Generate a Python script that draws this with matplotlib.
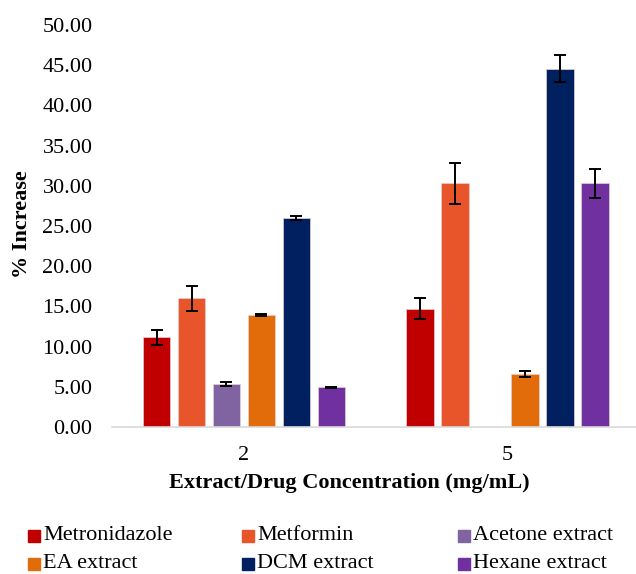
import matplotlib
matplotlib.use("Agg")
import matplotlib.pyplot as plt
from matplotlib.patches import Rectangle
import numpy as np

plt.rcParams['font.family'] = ['Liberation Serif', 'DejaVu Serif']

concentrations = ["2", "5"]
series = ["Metronidazole", "Metformin", "Acetone extract",
          "EA extract", "DCM extract", "Hexane extract"]
values = {
    "Metronidazole":   [11.16, 14.71],
    "Metformin":       [16.00, 30.31],
    "Acetone extract": [5.35, 0.05],
    "EA extract":      [13.93, 6.55],
    "DCM extract":     [26.00, 44.57],
    "Hexane extract":  [4.93, 30.31],
}
errors = {
    "Metronidazole":   [0.91, 1.31],
    "Metformin":       [1.53, 2.55],
    "Acetone extract": [0.25, 0.00],
    "EA extract":      [0.10, 0.37],
    "DCM extract":     [0.30, 1.68],
    "Hexane extract":  [0.10, 1.78],
}
colors = ["#C00000", "#E9552B", "#8064A2", "#E36C0A", "#002060", "#7030A0"]
yticks = np.arange(0, 50.01, 5)

FS = 16
W, H = 636, 574
fig = plt.figure(figsize=(W / 100, H / 100), dpi=100)
ax_left, ax_right, ax_bottom, ax_top = 112, 636, 427, 25
ax = fig.add_axes([ax_left / W, 1 - ax_bottom / H,
                   (ax_right - ax_left) / W, (ax_bottom - ax_top) / H])

x = np.arange(len(concentrations))
step = 0.1328
width = 0.1036
for i, name in enumerate(series):
    offs = (i - (len(series) - 1) / 2) * step
    vals = np.array(values[name])
    errs = np.array(errors[name])
    ax.bar(x + offs, vals, width=width, color=colors[i],
           edgecolor="#E6D0D0", linewidth=0.5, zorder=2)
    has_err = errs > 0
    ax.errorbar((x + offs)[has_err], vals[has_err], yerr=errs[has_err],
                fmt="none", ecolor="black", elinewidth=1.4, capsize=4.3,
                capthick=1.4, zorder=3)

ax.set_xlim(-0.501, 1.488)
ax.set_ylim(0, 50)
ax.set_yticks(yticks)
ax.set_yticklabels([f"{v:.2f}" for v in yticks], fontsize=FS)
ax.set_xticks(x)
ax.set_xticklabels(concentrations, fontsize=FS)
for s in ["top", "right", "left"]:
    ax.spines[s].set_visible(False)
ax.spines["bottom"].set_color("#D9D9D9")
ax.spines["bottom"].set_linewidth(1.2)
ax.tick_params(axis="x", length=0, pad=14)
ax.tick_params(axis="y", length=0, pad=14)

fig.text(22 / W, 1 - 224 / H, "% Increase", rotation=90, ha="center",
         va="center", fontsize=FS, fontweight="bold")
fig.text(349 / W, 1 - 483 / H, "Extract/Drug Concentration (mg/mL)",
         ha="center", va="center", fontsize=FS, fontweight="bold")

# legend laid out in three columns below the axes
col_x = [28, 242, 458]
row_y = [536, 564]
sq = 12
for i, name in enumerate(series):
    cx = col_x[i % 3]
    cy = row_y[i // 3]
    fig.add_artist(Rectangle((cx / W, 1 - (cy + sq / 2) / H), sq / W, sq / H,
                             transform=fig.transFigure, color=colors[i]))
    fig.text((cx + sq + 3) / W, 1 - cy / H, name, ha="left", va="center",
             fontsize=FS)

fig.savefig("out.png", dpi=100)
